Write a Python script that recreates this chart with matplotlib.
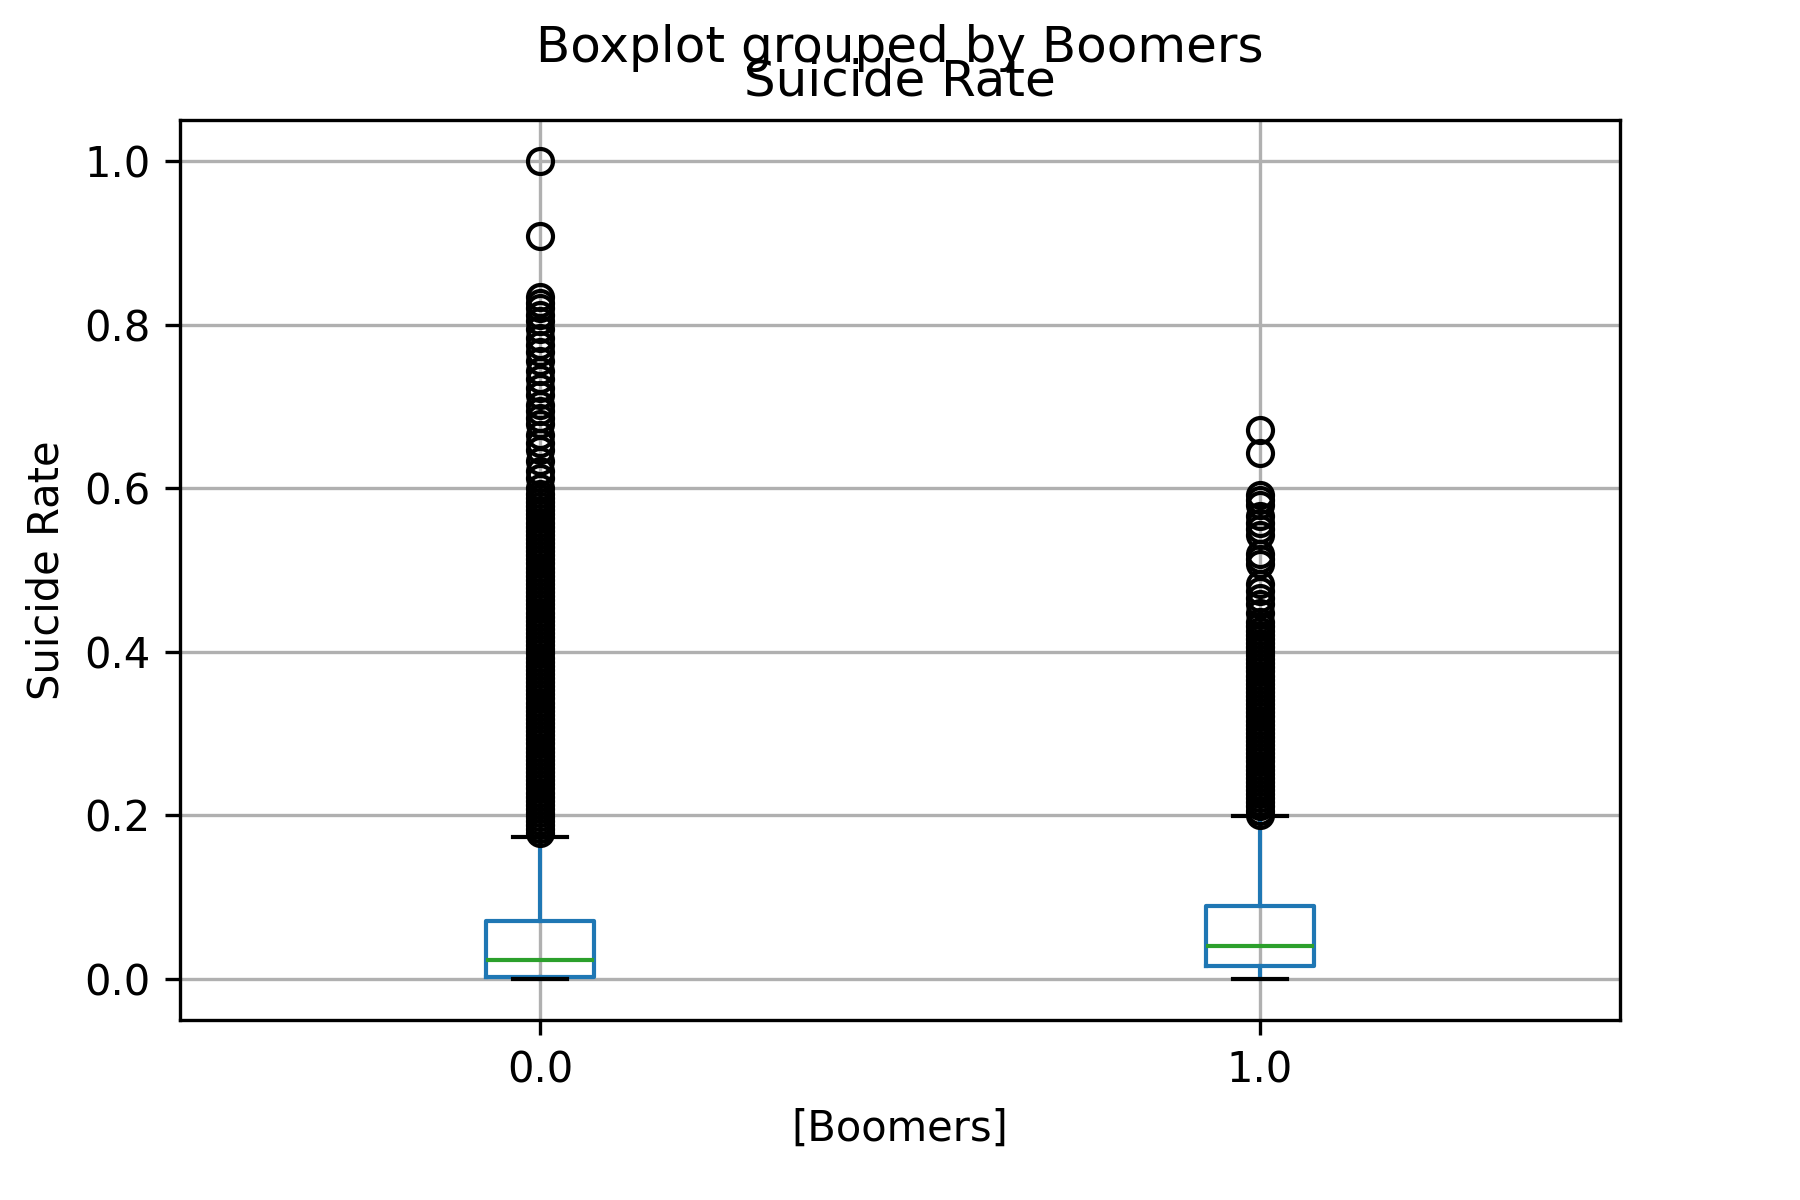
import matplotlib
matplotlib.use("Agg")
import matplotlib.pyplot as plt

# ---- data ----
groups = ["0.0", "1.0"]
whislo = [0.0, 0.0]
q1 = [0.0024, 0.0163]
median = [0.0236, 0.0407]
q3 = [0.0710, 0.0894]
whishi = [0.1735, 0.1996]

fliers_0 = [
    0.178, 0.183, 0.188, 0.193, 0.198, 0.203, 0.208, 0.213, 0.218, 0.223,
    0.228, 0.233, 0.238, 0.243, 0.248, 0.253, 0.258, 0.263, 0.268, 0.273,
    0.278, 0.283, 0.288, 0.293, 0.298, 0.303, 0.308, 0.313, 0.318, 0.323,
    0.328, 0.333, 0.338, 0.343, 0.348, 0.353, 0.358, 0.363, 0.368, 0.373,
    0.378, 0.383, 0.388, 0.393, 0.398, 0.403, 0.408, 0.413, 0.418, 0.423,
    0.428, 0.433, 0.438, 0.443, 0.448, 0.453, 0.458, 0.463, 0.468, 0.473,
    0.478, 0.483, 0.488, 0.493, 0.498, 0.503, 0.508, 0.513, 0.518, 0.523,
    0.528, 0.533, 0.538, 0.543, 0.548, 0.553, 0.558, 0.563, 0.568, 0.573,
    0.578, 0.583, 0.588, 0.593,
    0.600, 0.613, 0.621, 0.633, 0.647, 0.655, 0.665, 0.678, 0.686, 0.694,
    0.702, 0.714, 0.722, 0.733, 0.743, 0.755, 0.767, 0.775, 0.783, 0.794,
    0.804, 0.812, 0.820, 0.826, 0.834,
    0.9085, 1.0,
]
fliers_1 = [
    0.201, 0.206, 0.211, 0.216, 0.221, 0.226, 0.231, 0.236, 0.241, 0.246,
    0.251, 0.256, 0.261, 0.266, 0.271, 0.276, 0.281, 0.286, 0.291, 0.296,
    0.301, 0.306, 0.311, 0.316, 0.321, 0.326, 0.331, 0.336, 0.341, 0.346,
    0.351, 0.356, 0.361, 0.366, 0.371, 0.376, 0.381, 0.386, 0.391, 0.396,
    0.401, 0.406, 0.411, 0.416, 0.421, 0.426, 0.431, 0.436,
    0.448, 0.458, 0.466, 0.474, 0.483, 0.507, 0.513, 0.519,
    0.543, 0.550, 0.558, 0.566, 0.580, 0.586, 0.592,
    0.643, 0.6715,
]
fliers = [fliers_0, fliers_1]

title_sup = "Boxplot grouped by Boomers"
title_ax = "Suicide Rate"
ylabel = "Suicide Rate"
xlabel = "[Boomers]"

# ---- build stats ----
stats = []
for i in range(len(groups)):
    stats.append(dict(whislo=whislo[i], q1=q1[i], med=median[i], q3=q3[i],
                      whishi=whishi[i], fliers=fliers[i], label=groups[i]))

fig, ax = plt.subplots(figsize=(6, 4), dpi=300)
fig.subplots_adjust(left=0.1, right=0.9, bottom=0.15, top=0.9)

ax.bxp(stats, positions=[1, 2], widths=0.15,
       boxprops=dict(color="#1f77b4"),
       whiskerprops=dict(color="#1f77b4"),
       medianprops=dict(color="#2ca02c"),
       capprops=dict(color="black"),
       flierprops=dict(marker="o", markerfacecolor="none",
                       markeredgecolor="black"))

ax.set_xlim(0.5, 2.5)
ax.set_ylim(-0.05, 1.05)
ax.set_yticks([0.0, 0.2, 0.4, 0.6, 0.8, 1.0])
ax.grid(True)
ax.set_title(title_ax)
ax.set_ylabel(ylabel)
ax.set_xlabel(xlabel)
fig.suptitle(title_sup)

fig.savefig("out.png", dpi=300)
